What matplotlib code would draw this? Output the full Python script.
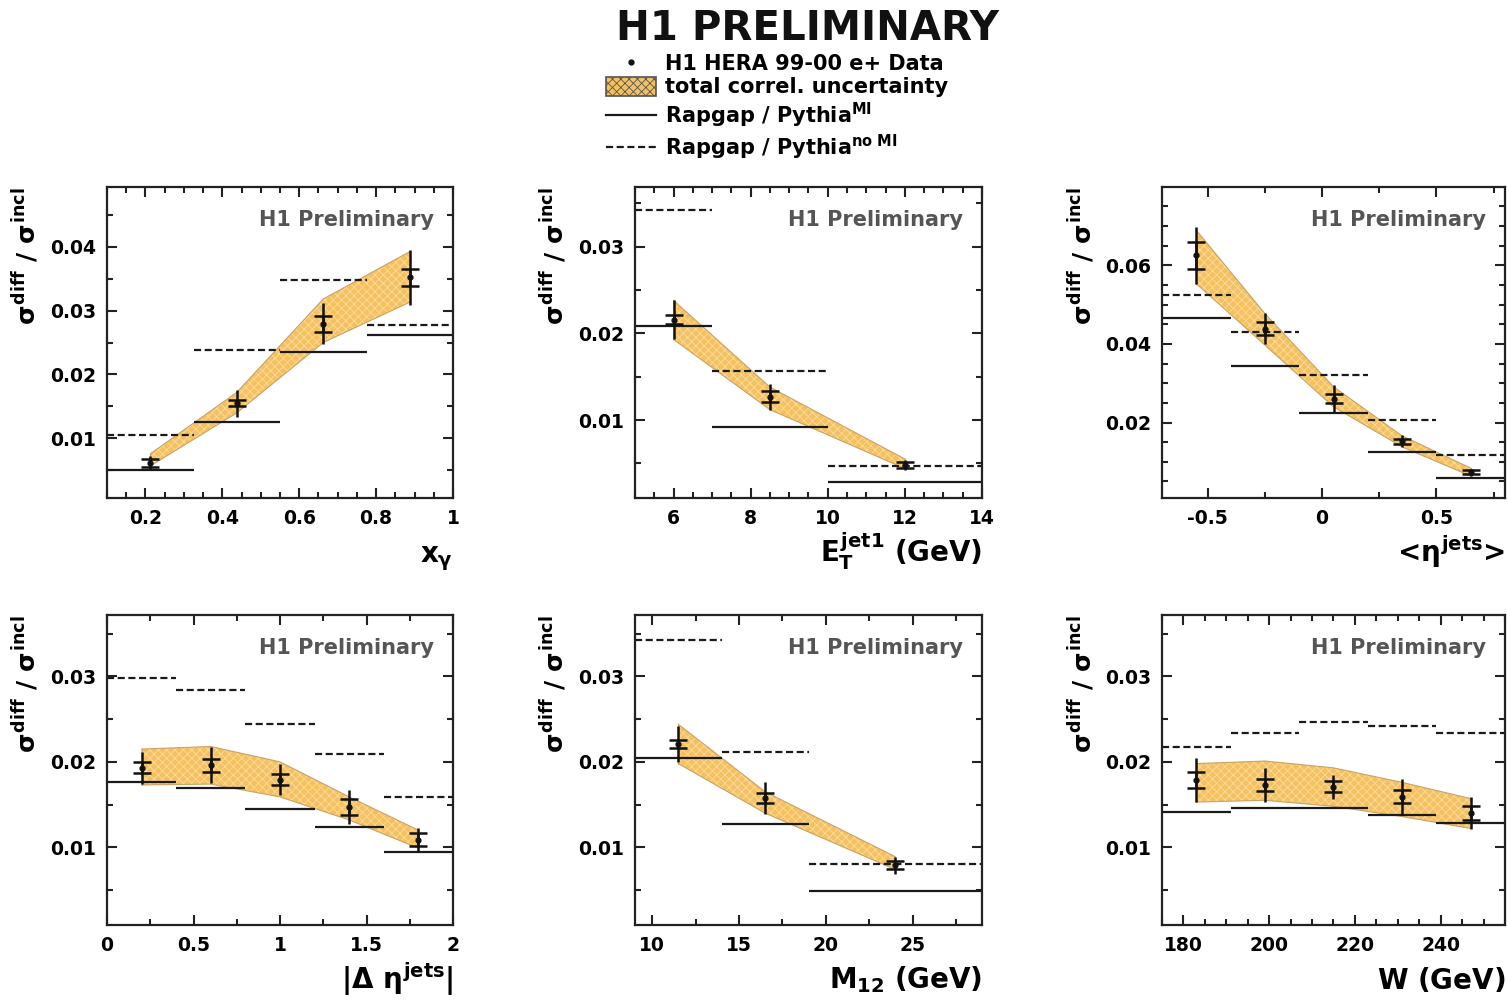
import matplotlib
matplotlib.use("Agg")
import matplotlib.pyplot as plt
import numpy as np
from matplotlib.ticker import MultipleLocator, FuncFormatter
from matplotlib.lines import Line2D
from matplotlib.patches import Patch

plt.rcParams['font.family'] = ['DejaVu Sans']
plt.rcParams['font.weight'] = 'bold'
plt.rcParams['axes.labelweight'] = 'bold'
plt.rcParams['mathtext.fontset'] = 'custom'
plt.rcParams['mathtext.rm'] = 'DejaVu Sans:bold'
plt.rcParams['mathtext.it'] = 'DejaVu Sans:bold'
plt.rcParams['mathtext.bf'] = 'DejaVu Sans:bold'
plt.rcParams['hatch.linewidth'] = 0.6

# ---------------- data ----------------
# x_gamma
xg_edges = [0.1, 0.325, 0.55, 0.775, 1.0]
xg_y = [0.0062, 0.0155, 0.0279, 0.0352]
xg_stat = [0.0006, 0.0005, 0.0012, 0.0013]
xg_tot = [0.0010, 0.0021, 0.0032, 0.0043]
xg_band_hi = [0.0076, 0.0172, 0.0318, 0.0392]
xg_band_lo = [0.0057, 0.0140, 0.0250, 0.0313]
xg_mi = [0.0050, 0.0125, 0.0235, 0.0261]
xg_nomi = [0.0106, 0.0238, 0.0347, 0.0278]

# E_T jet1
et_edges = [5, 7, 10, 14]
et_y = [0.0216, 0.0127, 0.0048]
et_stat = [0.00055, 0.0006, 0.0003]
et_tot = [0.0023, 0.0015, 0.00055]
et_band_hi = [0.0238, 0.0138, 0.0055]
et_band_lo = [0.0193, 0.0112, 0.0044]
et_mi = [0.0208, 0.0092, 0.0028]
et_nomi = [0.0342, 0.0157, 0.0047]

# <eta jets>
eta_edges = [-0.7, -0.4, -0.1, 0.2, 0.5, 0.8]
eta_y = [0.0625, 0.0439, 0.0261, 0.0152, 0.0073]
eta_stat = [0.0035, 0.0016, 0.0011, 0.00065, 0.0005]
eta_tot = [0.0072, 0.0040, 0.0034, 0.0015, 0.0010]
eta_band_hi = [0.0689, 0.0477, 0.0291, 0.0166, 0.0084]
eta_band_lo = [0.0553, 0.0397, 0.0240, 0.0138, 0.0064]
eta_mi = [0.0467, 0.0344, 0.0223, 0.0124, 0.0060]
eta_nomi = [0.0524, 0.0430, 0.0322, 0.0206, 0.0117]

# |Delta eta jets|
deta_edges = [0.0, 0.4, 0.8, 1.2, 1.6, 2.0]
deta_y = [0.0193, 0.0196, 0.0179, 0.0147, 0.0109]
deta_stat = [0.00065, 0.00075, 0.00065, 0.0009, 0.00075]
deta_tot = [0.0019, 0.0021, 0.0018, 0.0020, 0.0014]
deta_band_hi = [0.0215, 0.0218, 0.0200, 0.0159, 0.0120]
deta_band_lo = [0.0173, 0.0174, 0.0159, 0.0132, 0.0099]
deta_mi = [0.0177, 0.0169, 0.0145, 0.0124, 0.0094]
deta_nomi = [0.0298, 0.0284, 0.0244, 0.0209, 0.0159]

# M12
m12_edges = [9, 14, 19, 29]
m12_x = [11.5, 16.5, 24.0]
m12_y = [0.0221, 0.0158, 0.0079]
m12_stat = [0.0005, 0.0006, 0.00045]
m12_tot = [0.0021, 0.0019, 0.0010]
m12_band_hi = [0.0244, 0.0165, 0.0089]
m12_band_lo = [0.0198, 0.0140, 0.0074]
m12_mi = [0.0204, 0.0127, 0.0049]
m12_nomi = [0.0343, 0.0212, 0.0081]

# W
w_edges = [175, 191, 207, 223, 239, 255]
w_y = [0.0179, 0.0173, 0.0171, 0.0159, 0.0140]
w_stat = [0.0009, 0.0007, 0.00065, 0.00075, 0.00085]
w_tot = [0.0026, 0.0020, 0.0014, 0.0021, 0.0019]
w_band_hi = [0.0198, 0.0201, 0.0193, 0.0176, 0.0157]
w_band_lo = [0.0153, 0.0155, 0.0148, 0.0136, 0.0122]
w_mi = [0.0141, 0.0146, 0.0146, 0.0138, 0.0129]
w_nomi = [0.0218, 0.0234, 0.0247, 0.0242, 0.0234]

xlabels = [r'$x_{\gamma}$', r'$E_T^{jet1}\ (GeV)$', r'<$\eta^{jets}$>',
           r'$|\Delta\ \eta^{jets}|$', r'$M_{12}\ (GeV)$', r'$W\ (GeV)$']
ylabel = r'$\sigma^{diff}\ /\ \sigma^{incl}$'

def centers(e):
    e = np.asarray(e, float)
    return 0.5 * (e[:-1] + e[1:])

panels = [
    dict(edges=xg_edges, x=centers(xg_edges), y=xg_y, stat=xg_stat, tot=xg_tot,
         hi=xg_band_hi, lo=xg_band_lo, mi=xg_mi, nomi=xg_nomi,
         xlim=(0.1, 1.0), ylim=(0.0007, 0.0493), xmaj=0.2, xmin=0.05, ymaj=0.01, ymin=0.005),
    dict(edges=et_edges, x=centers(et_edges), y=et_y, stat=et_stat, tot=et_tot,
         hi=et_band_hi, lo=et_band_lo, mi=et_mi, nomi=et_nomi,
         xlim=(5, 14), ylim=(0.001, 0.0369), xmaj=2, xmin=0.5, ymaj=0.01, ymin=0.005),
    dict(edges=eta_edges, x=centers(eta_edges), y=eta_y, stat=eta_stat, tot=eta_tot,
         hi=eta_band_hi, lo=eta_band_lo, mi=eta_mi, nomi=eta_nomi,
         xlim=(-0.7, 0.8), ylim=(0.0008, 0.0799), xmaj=0.5, xmin=0.25, ymaj=0.02, ymin=0.005),
    dict(edges=deta_edges, x=centers(deta_edges), y=deta_y, stat=deta_stat, tot=deta_tot,
         hi=deta_band_hi, lo=deta_band_lo, mi=deta_mi, nomi=deta_nomi,
         xlim=(0, 2), ylim=(0.0009, 0.0372), xmaj=0.5, xmin=0.25, ymaj=0.01, ymin=0.005),
    dict(edges=m12_edges, x=np.array(m12_x), y=m12_y, stat=m12_stat, tot=m12_tot,
         hi=m12_band_hi, lo=m12_band_lo, mi=m12_mi, nomi=m12_nomi,
         xlim=(9, 29), ylim=(0.0009, 0.0372), xmaj=5, xmin=2.5, ymaj=0.01, ymin=0.005),
    dict(edges=w_edges, x=centers(w_edges), y=w_y, stat=w_stat, tot=w_tot,
         hi=w_band_hi, lo=w_band_lo, mi=w_mi, nomi=w_nomi,
         xlim=(175, 255), ylim=(0.0009, 0.0372), xmaj=20, xmin=5, ymaj=0.01, ymin=0.005),
]

W, H = 1507, 1002
fig = plt.figure(figsize=(W / 100, H / 100), dpi=100)

col_px = [(107, 453), (635, 982), (1162, 1505)]
row_px = [(187, 498), (615, 925)]

BAND_FACE = '#F5C160'
BAND_HATCH = '#FBDDA0'
BAND_EDGE = '#C9A264'
DASH = (0, (3.2, 1.6))

fmt = FuncFormatter(lambda v, p: '{:g}'.format(round(v, 6)))

for i, p in enumerate(panels):
    r, c = divmod(i, 3)
    l, rr = col_px[c]
    t, b = row_px[r]
    ax = fig.add_axes([l / W, 1 - b / H, (rr - l) / W, (b - t) / H])
    ax.set_xlim(*p['xlim'])
    ax.set_ylim(*p['ylim'])

    edges = np.asarray(p['edges'], float)
    # band
    ax.fill_between(p['x'], p['lo'], p['hi'], facecolor=BAND_FACE, edgecolor=BAND_HATCH,
                    hatch='xxxx', linewidth=0, zorder=1)
    ax.plot(p['x'], p['hi'], color=BAND_EDGE, lw=0.8, zorder=1.5)
    ax.plot(p['x'], p['lo'], color=BAND_EDGE, lw=0.8, zorder=1.5)
    ax.plot([p['x'][0]] * 2, [p['lo'][0], p['hi'][0]], color=BAND_EDGE, lw=0.8, zorder=1.5)
    ax.plot([p['x'][-1]] * 2, [p['lo'][-1], p['hi'][-1]], color=BAND_EDGE, lw=0.8, zorder=1.5)
    # MC
    ax.hlines(p['mi'], edges[:-1], edges[1:], colors='#1a1a1a', linewidth=1.6, zorder=2)
    ax.hlines(p['nomi'], edges[:-1], edges[1:], colors='#1a1a1a', linewidth=1.6,
              linestyles=[DASH], zorder=2)
    # data
    ax.errorbar(p['x'], p['y'], yerr=p['tot'], fmt='o', ms=3.5, color='#111111',
                elinewidth=1.8, capsize=0, zorder=3)
    ax.errorbar(p['x'], p['y'], yerr=p['stat'], fmt='none', ecolor='#111111',
                elinewidth=1.8, capsize=6.5, capthick=1.8, zorder=3)

    ax.xaxis.set_major_locator(MultipleLocator(p['xmaj']))
    ax.xaxis.set_minor_locator(MultipleLocator(p['xmin']))
    ax.yaxis.set_major_locator(MultipleLocator(p['ymaj']))
    ax.yaxis.set_minor_locator(MultipleLocator(p['ymin']))
    ax.xaxis.set_major_formatter(fmt)
    ax.yaxis.set_major_formatter(fmt)
    ax.tick_params(which='both', direction='in', top=True, right=True, width=1.5,
                   labelsize=13.5, color='#222222')
    ax.tick_params(which='major', length=7.5, pad=8)
    ax.tick_params(which='minor', length=4)
    for s in ax.spines.values():
        s.set_linewidth(1.6)
        s.set_color('#222222')

    ax.text(0.945, 0.895, 'H1 Preliminary', transform=ax.transAxes, ha='right',
            va='center', fontsize=15, color='#555555', fontweight='bold')

    ax.set_ylabel(ylabel, fontsize=18, loc='top')
    ax.yaxis.set_label_coords(-0.19, 1.0)
    ax.set_xlabel(xlabels[i], fontsize=20, loc='right')
    ax.xaxis.label.set_va('baseline')
    ax.xaxis.set_label_coords(1.0, -0.205)

fig.text(807 / W, 1 - 29 / H, 'H1 PRELIMINARY', ha='center', va='center',
         fontsize=29, fontweight='bold', color='#111111')

handles = [
    Line2D([], [], marker='o', ms=3.5, color='#111111', linestyle='none'),
    Patch(facecolor=BAND_FACE, edgecolor='#555555', hatch='xxxx', linewidth=1.2),
    Line2D([], [], color='#1a1a1a', lw=1.6),
    Line2D([], [], color='#1a1a1a', lw=1.6, linestyle=DASH),
]
labels = ['H1 HERA 99-00 e+ Data', 'total correl. uncertainty',
          r'Rapgap / Pythia$^{MI}$', r'Rapgap / Pythia$^{no\ MI}$']
leg = fig.legend(handles, labels, loc='upper left', bbox_to_anchor=(596 / W, 1 - 43 / H),
                 frameon=False, fontsize=15, handlelength=2.4, handleheight=1.0,
                 handletextpad=0.4, labelspacing=0.15, borderpad=0)

fig.savefig('out.png', dpi=100)
